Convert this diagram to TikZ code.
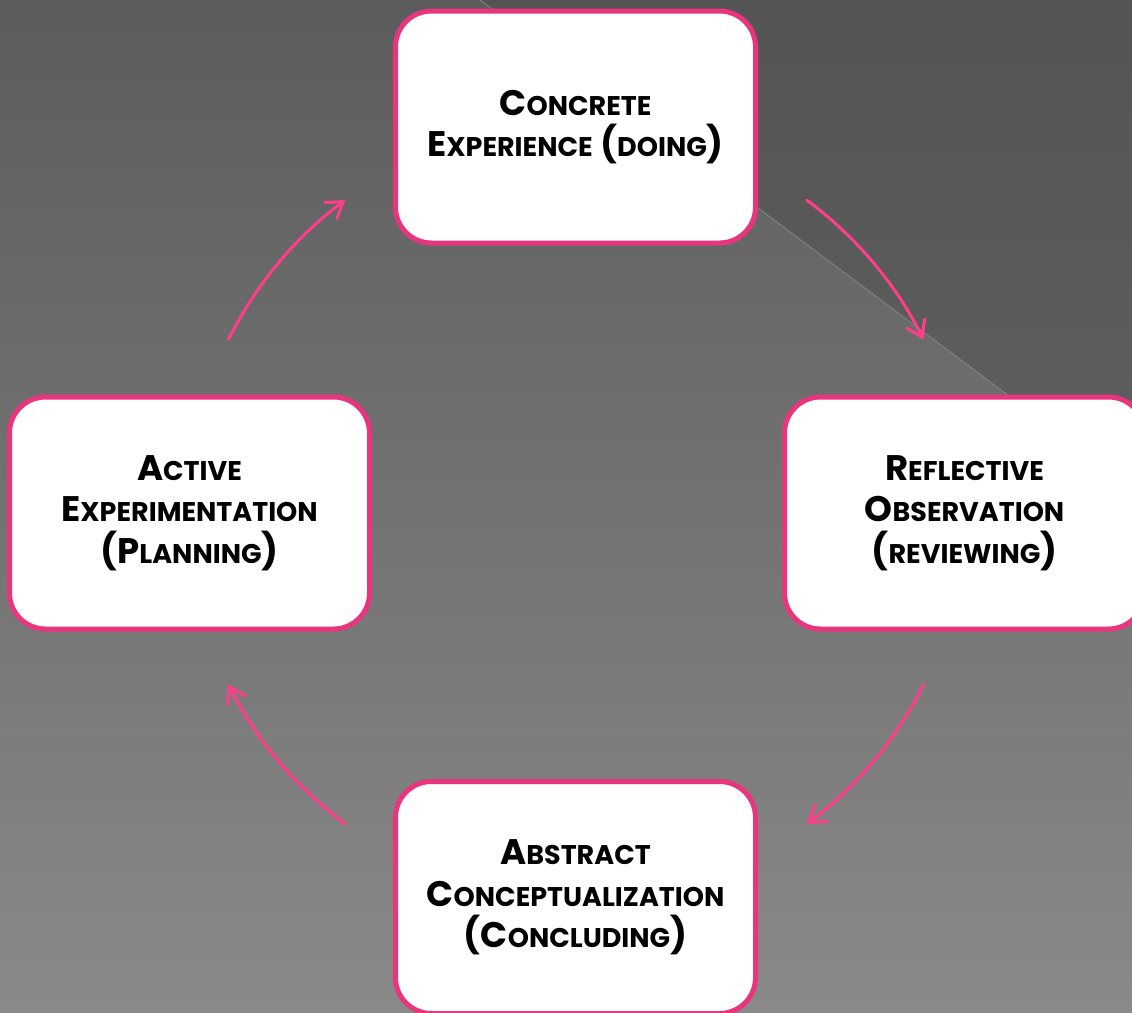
\documentclass[tikz,border=0pt]{standalone}
\usepackage{fontspec}
\setmainfont{Poppins}
\usetikzlibrary{arrows.meta}
\definecolor{boxpink}{RGB}{232,53,126}
\definecolor{arrpink}{RGB}{255,62,138}
\definecolor{bgtop}{RGB}{92,92,92}
\definecolor{bgmid}{RGB}{110,110,110}
\definecolor{bgbot}{RGB}{137,137,137}
\definecolor{tritop}{RGB}{84,84,84}
\definecolor{tribot}{RGB}{95,95,95}
\definecolor{diagline}{RGB}{128,128,128}
\newcommand\kbig[1]{{\fontsize{35.5}{41.5}\selectfont #1}}
\newcommand\ksml[1]{{\fontsize{27}{41.5}\selectfont #1}}
\newcommand\kc[2]{\kbig{#1}\ksml{#2}}
\tikzset{
  stagebox/.style={draw=boxpink, line width=5pt, fill=white, rounded corners=36pt,
    minimum width=360pt, minimum height=232pt, align=center, inner sep=0pt,
    font=\bfseries\fontsize{35.5}{41.5}\selectfont, text=black},
  cyc/.style={draw=arrpink, line width=3pt, line cap=round,
    -{Straight Barb[length=15pt,width=20pt,line cap=round]}}
}
\begin{document}
\begin{tikzpicture}[x=1pt,y=-1pt]
\useasboundingbox (0,0) rectangle (1132,1012);
\clip (0,0) rectangle (1132,1012);
\shade[top color=bgtop, middle color=bgmid, bottom color=bgbot] (0,0) rectangle (1132,1012);
\shade[top color=tritop, bottom color=tribot] (480,0) -- (1132,0) -- (1132,488) -- cycle;
\draw[diagline, line width=1pt] (480,0) -- (1132,488);

\node[stagebox] (ce) at (575.5,127) {\kc{C}{ONCRETE}\\\kc{E}{XPERIENCE} \kbig{(}\ksml{DOING}\kbig{)}};
\node[stagebox] (ro) at (964.5,513) {\kc{R}{EFLECTIVE}\\\kc{O}{BSERVATION}\\\kbig{(}\ksml{REVIEWING}\kbig{)}};
\node[stagebox] (ac) at (575.5,897.5) {\kc{A}{BSTRACT}\\\kc{C}{ONCEPTUALIZATION}\\\kbig{(C}\ksml{ONCLUDING}\kbig{)}};
\node[stagebox] (ae) at (189.5,513) {\kc{A}{CTIVE}\\\kc{E}{XPERIMENTATION}\\\kbig{(P}\ksml{LANNING}\kbig{)}};

\coordinate (s1) at (228.5,339.5);
\coordinate (s2) at (806.7,200.1);
\coordinate (s3) at (923.5,684.5);
\coordinate (s4) at (345.3,823.9);
\draw[cyc] (s1) arc[start angle=-153.6, end angle=-126.5, radius=388];
\draw[cyc] (s2) arc[start angle=-53.5, end angle=-26.4, radius=388];
\draw[cyc] (s3) arc[start angle=26.4, end angle=53.5, radius=388];
\draw[cyc] (s4) arc[start angle=126.5, end angle=153.6, radius=388];
\end{tikzpicture}
\end{document}
